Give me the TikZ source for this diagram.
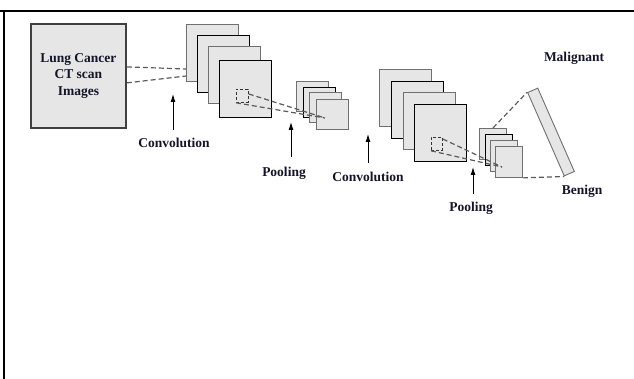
\documentclass[tikz,border=0pt]{standalone}
\usepackage{fontspec}
\setmainfont{Liberation Serif}
\usetikzlibrary{positioning,arrows.meta}

\definecolor{mapgray}{RGB}{230,230,230}
\definecolor{edgegray}{RGB}{112,112,112}
\definecolor{dashgray}{RGB}{90,90,90}
\definecolor{inkblue}{RGB}{20,20,40}

\begin{document}
\begin{tikzpicture}[x=1pt,y=-1pt,
  every node/.style={inner sep=0pt},
  lbl/.style={font=\fontsize{13.5}{16.5}\selectfont\bfseries, text=inkblue, inner sep=2pt},
  inbox/.style={lbl, draw=black!75, fill=mapgray, line width=1.8pt, anchor=north west,
    minimum width=95pt, minimum height=104pt, align=center},
  conv/.style={draw=black, fill=mapgray, line width=0.9pt, anchor=north west,
    minimum width=52pt, minimum height=57pt},
  convg/.style={conv, draw=edgegray},
  pool/.style={conv, minimum width=32pt, minimum height=30pt},
  poolg/.style={pool, draw=edgegray},
  pools/.style={conv, minimum width=27pt, minimum height=31pt},
  poolsg/.style={pools, draw=edgegray},
  win/.style={draw=black!80, dash pattern=on 3pt off 2pt, line width=0.8pt, anchor=north west},
  link/.style={draw=dashgray, dash pattern=on 5pt off 3pt, line width=1.2pt},
  uparrow/.style={-{Latex[length=8pt,width=5pt]}, line width=0.9pt}
]
\useasboundingbox (0,0) rectangle (634,379);
% frame
\draw[line width=2.2pt] (0,11) -- (634,11);
\draw[line width=2.2pt] (4,11) -- (4,379);

% input
\node[inbox] (img) at (30,23) {Lung Cancer\\CT scan\\Images};

% first convolution
\node[convg] (c1a) at (186,24) {};
\node[conv]  (c1b) at (197,35) {};
\node[convg] (c1c) at (208,46) {};
\node[conv]  (c1d) at (219,60) {};
\node[win, minimum width=12pt, minimum height=13pt] (s1) at (236,89) {};

% first pooling
\node[poolg] (p1a) at (296,81) {};
\node[pool]  (p1b) at (303,87) {};
\node[poolg] (p1c) at (309,92) {};
\node[poolg] (p1d) at (316,99) {};

% second convolution
\node[convg] (c2a) at (379,69) {};
\node[conv]  (c2b) at (391,81) {};
\node[convg] (c2c) at (403,92) {};
\node[conv]  (c2d) at (414,104) {};
\node[win, minimum width=11pt, minimum height=13pt] (s2) at (431,137) {};

% second pooling
\node[poolsg] (p2a) at (479,128) {};
\node[pools]  (p2b) at (485,134) {};
\node[poolsg] (p2c) at (490,140) {};
\node[poolsg] (p2d) at (495,146) {};

% fully connected
\node[draw=edgegray, fill=mapgray, line width=0.9pt, minimum width=91pt,
  minimum height=11pt, rotate=-66.3] (fc) at (551,132) {};

% dashed links
\coordinate (e1) at (186,69);
\coordinate (e2) at (186,76);
\draw[link] ([yshift=9pt]img.east) -- (e1);
\draw[link] ([yshift=-7pt]img.east) -- (e2);
\coordinate (f1) at (325,118);
\draw[link] ([yshift=-5pt]s1.north east) -- (f1);
\draw[link] (s1.south west) -- (f1);
\coordinate (f2) at (502,167);
\draw[link] ([yshift=-2pt]s2.north east) -- (f2);
\draw[link] (s2.south west) -- (f2);
\draw[link] (p2a.north) -- (fc.south west);
\draw[link] (p2d.south east) -- (fc.south east);

% labels
\node[lbl] (lconv1) at (174,143) {Convolution};
\node[lbl] (lpool1) at (284,173) {Pooling};
\node[lbl] (lconv2) at (368,177) {Convolution};
\node[lbl] (lpool2) at (471,208) {Pooling};
\node[lbl] (lmal) at (574,58) {Malignant};
\node[lbl] (lben) at (582,191) {Benign};

% arrows
\coordinate (t1) at (173,94);
\coordinate (t2) at (291,122);
\coordinate (t3) at (368,134);
\coordinate (t4) at (473,167);
\draw[uparrow] (lconv1.north -| t1) ++(0,-6) -- (t1);
\draw[uparrow] (lpool1.north -| t2) ++(0,-8) -- (t2);
\draw[uparrow] (lconv2.north -| t3) ++(0,-7) -- (t3);
\draw[uparrow] (lpool2.north -| t4) ++(0,-6) -- (t4);
\end{tikzpicture}
\end{document}
